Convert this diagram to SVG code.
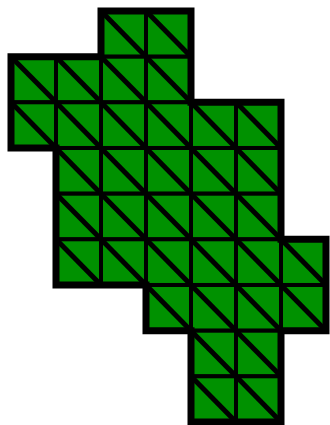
<svg xmlns="http://www.w3.org/2000/svg" xmlns:xlink="http://www.w3.org/1999/xlink" width="330" height="425" viewBox="0 0 330 425">
<style>
.bg{fill:#ffffff}
.tile rect{fill:#009100;stroke:#000;stroke-width:4}
.tile line{stroke:#000;stroke-width:5}
.outline{fill:none;stroke:#000;stroke-width:7;stroke-linejoin:miter}
</style>
<defs>
<g id="cell" class="tile"><rect x="0" y="0" width="45" height="45.67"/><line x1="0" y1="0" x2="45" y2="45.67"/></g>
</defs>
<rect class="bg" x="0" y="0" width="330" height="425"/>
<g id="tiles">
<g id="r0c2"><use xlink:href="#cell" x="101" y="11"/></g>
<g id="r0c3"><use xlink:href="#cell" x="146" y="11"/></g>
<g id="r1c0"><use xlink:href="#cell" x="11" y="56.7"/></g>
<g id="r1c1"><use xlink:href="#cell" x="56" y="56.7"/></g>
<g id="r1c2"><use xlink:href="#cell" x="101" y="56.7"/></g>
<g id="r1c3"><use xlink:href="#cell" x="146" y="56.7"/></g>
<g id="r2c0"><use xlink:href="#cell" x="11" y="102.3"/></g>
<g id="r2c1"><use xlink:href="#cell" x="56" y="102.3"/></g>
<g id="r2c2"><use xlink:href="#cell" x="101" y="102.3"/></g>
<g id="r2c3"><use xlink:href="#cell" x="146" y="102.3"/></g>
<g id="r2c4"><use xlink:href="#cell" x="191" y="102.3"/></g>
<g id="r2c5"><use xlink:href="#cell" x="236" y="102.3"/></g>
<g id="r3c1"><use xlink:href="#cell" x="56" y="148"/></g>
<g id="r3c2"><use xlink:href="#cell" x="101" y="148"/></g>
<g id="r3c3"><use xlink:href="#cell" x="146" y="148"/></g>
<g id="r3c4"><use xlink:href="#cell" x="191" y="148"/></g>
<g id="r3c5"><use xlink:href="#cell" x="236" y="148"/></g>
<g id="r4c1"><use xlink:href="#cell" x="56" y="193.7"/></g>
<g id="r4c2"><use xlink:href="#cell" x="101" y="193.7"/></g>
<g id="r4c3"><use xlink:href="#cell" x="146" y="193.7"/></g>
<g id="r4c4"><use xlink:href="#cell" x="191" y="193.7"/></g>
<g id="r4c5"><use xlink:href="#cell" x="236" y="193.7"/></g>
<g id="r5c1"><use xlink:href="#cell" x="56" y="239.3"/></g>
<g id="r5c2"><use xlink:href="#cell" x="101" y="239.3"/></g>
<g id="r5c3"><use xlink:href="#cell" x="146" y="239.3"/></g>
<g id="r5c4"><use xlink:href="#cell" x="191" y="239.3"/></g>
<g id="r5c5"><use xlink:href="#cell" x="236" y="239.3"/></g>
<g id="r5c6"><use xlink:href="#cell" x="281" y="239.3"/></g>
<g id="r6c3"><use xlink:href="#cell" x="146" y="285"/></g>
<g id="r6c4"><use xlink:href="#cell" x="191" y="285"/></g>
<g id="r6c5"><use xlink:href="#cell" x="236" y="285"/></g>
<g id="r6c6"><use xlink:href="#cell" x="281" y="285"/></g>
<g id="r7c4"><use xlink:href="#cell" x="191" y="330.7"/></g>
<g id="r7c5"><use xlink:href="#cell" x="236" y="330.7"/></g>
<g id="r8c4"><use xlink:href="#cell" x="191" y="376.3"/></g>
<g id="r8c5"><use xlink:href="#cell" x="236" y="376.3"/></g>
</g>
<g id="border">
<path class="outline" d="M101,11 H191 V102.3 H281 V239.3 H326 V330.7 H281 V422 H191 V330.7 H146 V285 H56 V148 H11 V56.7 H101 Z"/>
</g>
</svg>
